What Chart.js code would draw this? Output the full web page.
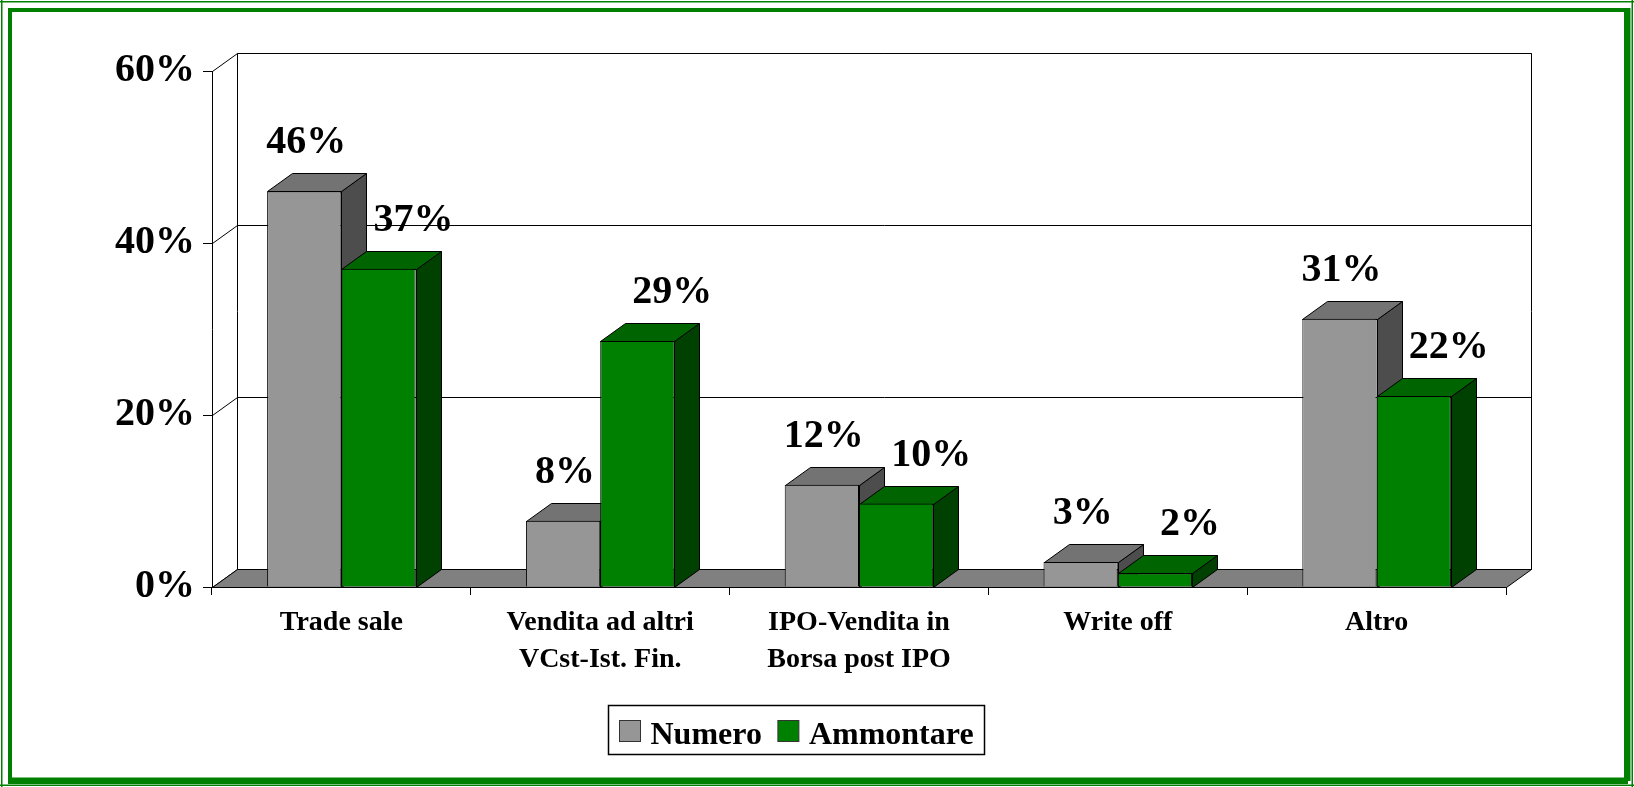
<!DOCTYPE html>
<html>
<head>
<meta charset="utf-8">
<script src="https://cdn.jsdelivr.net/npm/chart.js@4.4.0/dist/chart.umd.min.js"></script>
<style>
  html, body { margin: 0; padding: 0; background: #fff; }
  #wrap { width: 1634px; height: 787px; }
</style>
</head>
<body>
<div id="wrap"><canvas id="chart" width="1634" height="787"></canvas></div>
<script>
var categories = [
  'Trade sale',
  ['Vendita ad altri', 'VCst-Ist. Fin.'],
  ['IPO-Vendita in', 'Borsa post IPO'],
  'Write off',
  'Altro'
];
var numero = [46, 7.7, 11.9, 2.9, 31.2];
var ammontare = [37, 28.6, 9.7, 1.6, 22.2];
var yTicks = [0, 20, 40, 60];
var seriesNames = ['Numero', 'Ammontare'];

var FONT = "'Liberation Serif', 'Times New Roman', serif";
// depth of the fake 3d
var DX = 25, DY = -18;

var faces = [
  { front: '#969696', top: '#737373', side: '#4d4d4d' },
  { front: '#008000', top: '#006400', side: '#004000' }
];

// snap to pixel centre so 1px lines stay crisp
function c(v) { return Math.round(v) + 0.5; }

function poly(ctx, pts, fill) {
  ctx.beginPath();
  ctx.moveTo(pts[0][0], pts[0][1]);
  for (var i = 1; i < pts.length; i++) ctx.lineTo(pts[i][0], pts[i][1]);
  ctx.closePath();
  if (fill) { ctx.fillStyle = fill; ctx.fill(); }
  ctx.stroke();
}

var threeD = {
  id: 'threeD',
  beforeDraw: function(chart) {
    // green double frame round the picture
    var ctx = chart.ctx, w = chart.width, h = chart.height;
    ctx.save();
    ctx.fillStyle = '#008000';
    ctx.fillRect(0, 1, w, 1.5);
    ctx.fillRect(1, 0, 1.5, h);
    ctx.fillRect(w - 2.5, 0, 1.5, h);
    ctx.fillRect(0, h - 2.5, w, 1.5);
    ctx.fillRect(8, 8, w - 16, 4);
    ctx.fillRect(8, 8, 4, h - 16);
    ctx.fillRect(w - 10, 8, 6.5, h - 14);
    ctx.fillRect(8, h - 9.5, w - 14, 6.5);
    ctx.restore();
  },
  beforeDatasetsDraw: function(chart) {
    var ctx = chart.ctx, a = chart.chartArea, ys = chart.scales.y;
    var y0 = ys.getPixelForValue(yTicks[0]);
    var yTop = ys.getPixelForValue(yTicks[yTicks.length - 1]);
    ctx.save();
    ctx.strokeStyle = '#000';
    ctx.lineWidth = 1;
    // back wall
    poly(ctx, [[c(a.left + DX), c(yTop + DY)], [c(a.right + DX), c(yTop + DY)],
               [c(a.right + DX), c(y0 + DY)], [c(a.left + DX), c(y0 + DY)]]);
    // gridlines on side wall and back wall
    yTicks.forEach(function(v) {
      var py = ys.getPixelForValue(v);
      ctx.beginPath();
      ctx.moveTo(c(a.left), c(py));
      ctx.lineTo(c(a.left + DX), c(py + DY));
      ctx.lineTo(c(a.right + DX), c(py + DY));
      ctx.stroke();
    });
    // floor
    poly(ctx, [[c(a.left), c(y0)], [c(a.right), c(y0)], [c(a.right + DX), c(y0 + DY)], [c(a.left + DX), c(y0 + DY)]], '#808080');

    // top and side faces, category by category so the front series overlaps correctly
    var metas = chart.data.datasets.map(function(d, i) { return chart.getDatasetMeta(i); });
    for (var j = 0; j < categories.length; j++) {
      metas.forEach(function(meta, i) {
        var el = meta.data[j];
        var l = c(el.x - el.width / 2), r = c(el.x + el.width / 2), t = c(el.y), b = c(el.base);
        poly(ctx, [[r, b], [r + DX, b + DY], [r + DX, t + DY], [r, t]], faces[i].side);
        poly(ctx, [[l, t], [l + DX, t + DY], [r + DX, t + DY], [r, t]], faces[i].top);
      });
    }
    ctx.restore();
  },
  afterDatasetsDraw: function(chart) {
    var ctx = chart.ctx;
    ctx.save();
    ctx.fillStyle = '#000';
    ctx.font = 'bold 40px ' + FONT;
    ctx.textAlign = 'center';
    ctx.textBaseline = 'alphabetic';
    chart.data.datasets.forEach(function(ds, i) {
      var meta = chart.getDatasetMeta(i);
      meta.data.forEach(function(el, j) {
        var shift = i === 0 ? 2 : 35;
        ctx.fillText(Math.round(ds.data[j]) + '%', el.x + shift, el.y + DY - 20);
      });
    });

    // legend with a frame
    ctx.font = 'bold 32px ' + FONT;
    ctx.textAlign = 'left';
    var pad = 11, box = 21, gap = 10, between = 16;
    var total = pad * 2;
    chart.data.datasets.forEach(function(ds, i) {
      total += box + gap + ctx.measureText(ds.label).width + (i > 0 ? between : 0);
    });
    var lx = Math.round(796 - total / 2) + 0.5, ly = 705.5, lh = 49;
    ctx.strokeStyle = '#000';
    ctx.lineWidth = 1.5;
    ctx.strokeRect(lx, ly, Math.round(total), lh);
    var cx = lx + pad;
    ctx.lineWidth = 1;
    chart.data.datasets.forEach(function(ds, i) {
      if (i > 0) cx += between;
      ctx.fillStyle = ds.backgroundColor;
      ctx.fillRect(cx, ly + 15, box, box);
      ctx.strokeStyle = '#333';
      ctx.strokeRect(cx, ly + 15, box, box);
      cx += box + gap;
      ctx.fillStyle = '#000';
      ctx.fillText(ds.label, cx, ly + 38);
      cx += ctx.measureText(ds.label).width;
    });
    ctx.restore();
  }
};

new Chart(document.getElementById('chart'), {
  type: 'bar',
  data: {
    labels: categories,
    datasets: [
      { label: seriesNames[0], data: numero, backgroundColor: faces[0].front, borderColor: '#000', borderWidth: 1 },
      { label: seriesNames[1], data: ammontare, backgroundColor: faces[1].front, borderColor: '#000', borderWidth: 1 }
    ]
  },
  options: {
    responsive: false,
    animation: false,
    devicePixelRatio: 1,
    layout: { padding: { top: 71, right: 128, bottom: 0, left: 0 } },
    datasets: { bar: { barPercentage: 1, categoryPercentage: 0.574 } },
    plugins: { legend: { display: false }, tooltip: { enabled: false } },
    scales: {
      x: {
        grid: { drawOnChartArea: false, tickLength: 8, color: '#000', offset: true },
        border: { color: '#000', width: 1 },
        ticks: { color: '#000', padding: 10, maxRotation: 0, autoSkip: false,
                 font: { family: FONT, size: 28, weight: 'bold', lineHeight: 1.3 } },
        afterFit: function(s) { s.height = 200; }
      },
      y: {
        min: 0, max: 60,
        grid: { drawOnChartArea: false, tickLength: 9, color: '#000' },
        border: { color: '#000', width: 1 },
        ticks: { stepSize: 20, color: '#000', padding: 8,
                 callback: function(v) { return v + '%'; },
                 font: { family: FONT, size: 40, weight: 'bold' } },
        afterFit: function(s) { s.width = 212; }
      }
    }
  },
  plugins: [threeD]
});
</script>
</body>
</html>
